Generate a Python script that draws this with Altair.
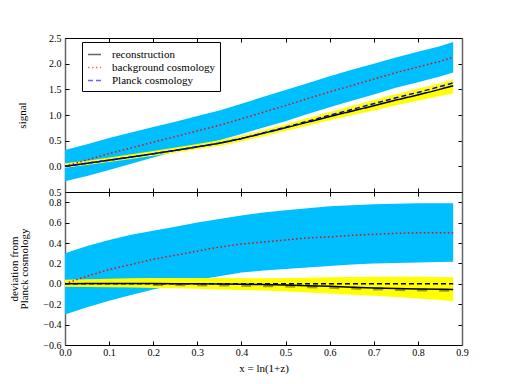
import altair as alt
import pandas as pd

# ---------------- data ----------------
x = [0.0, 0.05, 0.1, 0.15, 0.2, 0.25, 0.3, 0.35, 0.4, 0.45, 0.5, 0.55, 0.6, 0.65, 0.7, 0.75, 0.8, 0.85, 0.88]

# top panel: signal
recon = [0.0, 0.06, 0.12, 0.18, 0.245, 0.31, 0.38, 0.45, 0.54, 0.645, 0.75, 0.86, 0.97, 1.075, 1.18, 1.29, 1.39, 1.50, 1.57]
planck = [0.0, 0.06, 0.12, 0.18, 0.245, 0.31, 0.38, 0.452, 0.544, 0.652, 0.762, 0.878, 0.995, 1.108, 1.22, 1.335, 1.44, 1.553, 1.625]
background = [0.0, 0.125, 0.25, 0.36, 0.47, 0.58, 0.69, 0.80, 0.925, 1.055, 1.185, 1.32, 1.45, 1.575, 1.70, 1.825, 1.935, 2.045, 2.125]
blue_top_hi = [0.32, 0.43, 0.55, 0.66, 0.765, 0.87, 0.98, 1.09, 1.22, 1.355, 1.485, 1.62, 1.755, 1.88, 2.00, 2.12, 2.23, 2.34, 2.42]
blue_top_lo = [-0.29, -0.19, -0.07, 0.05, 0.17, 0.29, 0.40, 0.51, 0.63, 0.755, 0.88, 1.02, 1.15, 1.28, 1.40, 1.53, 1.64, 1.75, 1.83]
yel_top_hi = [0.06, 0.11, 0.17, 0.235, 0.30, 0.367, 0.437, 0.508, 0.60, 0.707, 0.82, 0.94, 1.06, 1.175, 1.29, 1.405, 1.51, 1.62, 1.69]
yel_top_lo = [-0.03, 0.028, 0.086, 0.143, 0.205, 0.266, 0.331, 0.397, 0.484, 0.586, 0.687, 0.793, 0.90, 0.995, 1.09, 1.19, 1.28, 1.37, 1.42]

# bottom panel: deviation from Planck cosmology
dev_recon = [0.0, 0.002, 0.003, 0.003, 0.002, 0.001, 0.0, -0.002, -0.004, -0.007, -0.012, -0.018, -0.025, -0.033, -0.04, -0.045, -0.05, -0.053, -0.055]
dev_planck = [0.0] * 19
dev_background = [0.0, 0.075, 0.14, 0.19, 0.24, 0.28, 0.32, 0.36, 0.39, 0.41, 0.43, 0.45, 0.46, 0.475, 0.485, 0.495, 0.50, 0.50, 0.50]
blue_dev_hi = [0.30, 0.37, 0.43, 0.48, 0.52, 0.56, 0.60, 0.635, 0.67, 0.70, 0.72, 0.74, 0.76, 0.77, 0.78, 0.785, 0.79, 0.79, 0.79]
blue_dev_lo = [-0.30, -0.23, -0.165, -0.11, -0.057, -0.01, 0.04, 0.075, 0.11, 0.13, 0.145, 0.16, 0.175, 0.188, 0.198, 0.205, 0.21, 0.213, 0.215]
yel_dev_hi = [0.04, 0.045, 0.05, 0.055, 0.057, 0.057, 0.057, 0.056, 0.055, 0.055, 0.057, 0.06, 0.063, 0.067, 0.07, 0.07, 0.068, 0.066, 0.065]
yel_dev_lo = [-0.03, -0.032, -0.034, -0.037, -0.04, -0.044, -0.049, -0.055, -0.06, -0.066, -0.075, -0.085, -0.095, -0.107, -0.118, -0.13, -0.145, -0.16, -0.17]
olive_x = [0.2, 0.25, 0.3, 0.35, 0.4, 0.45, 0.5, 0.55, 0.6, 0.65, 0.7, 0.75, 0.8, 0.85, 0.88]
olive_y = [-0.006, -0.008, -0.01, -0.012, -0.014, -0.018, -0.022, -0.028, -0.035, -0.042, -0.05, -0.055, -0.06, -0.063, -0.065]

series_names = ["reconstruction", "background cosmology", "Planck cosmology"]
series_colors = ["black", "red", "blue"]
series_dash = [[1, 0], [1.5, 2.5], [5, 3]]

x_ticks = [0.0, 0.1, 0.2, 0.3, 0.4, 0.5, 0.6, 0.7, 0.8, 0.9]
top_ticks = [-0.5, 0.0, 0.5, 1.0, 1.5, 2.0, 2.5]
bot_ticks = [-0.6, -0.4, -0.2, 0.0, 0.2, 0.4, 0.6, 0.8]

# ---------------- layout ----------------
W = 397
H1 = 154
H2 = 153
FONT = "Liberation Serif, DejaVu Serif, serif"
BAND_BLUE = "#00BFFF"
BAND_YEL = "#FFFF00"

xscale = alt.Scale(domain=[0, 0.9], nice=False, zero=False)
yscale_top = alt.Scale(domain=[-0.5, 2.5], nice=False, zero=False)
yscale_bot = alt.Scale(domain=[-0.6, 0.9], nice=False, zero=False)


def ax(**kw):
    base = dict(grid=False, labelFlush=False, labelOverlap=False)
    base.update(kw)
    return alt.Axis(**base)


def tick_axes(values, orient_main, offset):
    return ax(orient=orient_main, offset=offset, values=values, labels=False,
              domain=False, ticks=True, tickSize=4, tickColor="black", title=None)


top_df = pd.DataFrame({"x": x, "recon": recon, "planck": planck, "background": background,
                       "bhi": blue_top_hi, "blo": blue_top_lo, "yhi": yel_top_hi, "ylo": yel_top_lo})
n = len(x)
top_lines = pd.DataFrame({
    "x": x * 3,
    "value": recon + background + planck,
    "series": [series_names[0]] * n + [series_names[1]] * n + [series_names[2]] * n,
})

top_base = alt.Chart(top_df)
t_blue = top_base.mark_area(color=BAND_BLUE, opacity=1).encode(
    x=alt.X("x:Q", scale=xscale, axis=ax(orient="bottom", values=x_ticks, labels=False, ticks=False,
                                           domain=True, domainColor="black", title=None)),
    y=alt.Y("blo:Q", scale=yscale_top,
            axis=ax(orient="left", values=top_ticks, ticks=False, domain=True, domainColor="#666666",
                    domainWidth=1.5, labelExpr="format(abs(datum.value), '.1f')", title="signal",
                    titlePadding=21, labelPadding=4)),
    y2="bhi:Q",
)
t_yel = top_base.mark_area(color=BAND_YEL, opacity=1).encode(
    x=alt.X("x:Q", scale=xscale, axis=tick_axes(x_ticks, "top", -H1)),
    y=alt.Y("ylo:Q", scale=yscale_top, axis=tick_axes(top_ticks, "right", -W)),
    y2="yhi:Q",
)
legend = alt.Legend(orient="none", legendX=17, legendY=4, title=None, strokeColor="black",
                    fillColor="white", padding=5, symbolType="stroke", symbolSize=169,
                    symbolStrokeWidth=1.5, labelFont=FONT, labelFontSize=11, labelOffset=10,
                    rowPadding=0, symbolOpacity=0.6, cornerRadius=0)
t_lines = alt.Chart(top_lines).mark_line(strokeWidth=1.5).encode(
    x=alt.X("x:Q", scale=xscale, axis=ax(orient="bottom", offset=-H1, values=x_ticks, labels=False,
                                           ticks=True, tickSize=4, domain=True, domainColor="black",
                                           title=None)),
    y=alt.Y("value:Q", scale=yscale_top,
            axis=ax(orient="left", offset=-W, values=top_ticks, labels=False, ticks=True, tickSize=4,
                    domain=True, domainColor="#666666", domainWidth=1.5, title=None)),
    color=alt.Color("series:N", scale=alt.Scale(domain=series_names, range=series_colors), legend=legend),
    strokeDash=alt.StrokeDash("series:N", scale=alt.Scale(domain=series_names, range=series_dash),
                              legend=legend),
)
top = alt.layer(t_blue, t_yel, t_lines).resolve_axis(x="independent", y="independent").properties(
    width=W, height=H1)

bot_df = pd.DataFrame({"x": x, "recon": dev_recon, "planck": dev_planck, "background": dev_background,
                       "bhi": blue_dev_hi, "blo": blue_dev_lo, "yhi": yel_dev_hi, "ylo": yel_dev_lo})
olive_df = pd.DataFrame({"x": olive_x, "y": olive_y})
bot_base = alt.Chart(bot_df)
b_blue = bot_base.mark_area(color=BAND_BLUE, opacity=1).encode(
    x=alt.X("x:Q", scale=xscale, axis=ax(orient="bottom", values=x_ticks, ticks=False, domain=True,
                                           domainColor="black", format=".1f", title="x = ln(1+z)",
                                           labelPadding=2, titlePadding=5)),
    y=alt.Y("blo:Q", scale=yscale_bot,
            axis=ax(orient="left", values=bot_ticks, ticks=False, domain=True, domainColor="#666666",
                    domainWidth=1.5, format=".1f", title=["deviation from", "Planck cosmology"],
                    titlePadding=13, labelPadding=4)),
    y2="bhi:Q",
)
b_yel = bot_base.mark_area(color=BAND_YEL, opacity=1).encode(
    x=alt.X("x:Q", scale=xscale, axis=tick_axes(x_ticks, "top", -H2)),
    y=alt.Y("ylo:Q", scale=yscale_bot, axis=tick_axes(bot_ticks, "right", -W)),
    y2="yhi:Q",
)
b_olive = alt.Chart(olive_df).mark_line(color="#8a8a10", strokeWidth=3, strokeDash=[10, 12], opacity=0.8).encode(
    x=alt.X("x:Q", scale=xscale, axis=None),
    y=alt.Y("y:Q", scale=yscale_bot, axis=None),
)
b_recon = bot_base.mark_line(color="black", strokeWidth=1.5).encode(
    x=alt.X("x:Q", scale=xscale, axis=ax(orient="bottom", offset=-H2, values=x_ticks, labels=False,
                                           ticks=True, tickSize=4, domain=True, domainColor="black",
                                           title=None)),
    y=alt.Y("recon:Q", scale=yscale_bot,
            axis=ax(orient="left", offset=-W, values=bot_ticks, labels=False, ticks=True, tickSize=4,
                    domain=True, domainColor="#666666", domainWidth=1.5, title=None)),
)
b_bg = bot_base.mark_line(color="red", strokeWidth=1.5, strokeDash=[1.5, 2.5]).encode(
    x=alt.X("x:Q", scale=xscale, axis=None),
    y=alt.Y("background:Q", scale=yscale_bot, axis=None),
)
b_planck = bot_base.mark_line(color="black", strokeWidth=1.5, strokeDash=[5, 3]).encode(
    x=alt.X("x:Q", scale=xscale, axis=None),
    y=alt.Y("planck:Q", scale=yscale_bot, axis=None),
)
bottom = alt.layer(b_blue, b_yel, b_olive, b_recon, b_bg, b_planck).resolve_axis(
    x="independent", y="independent").properties(width=W, height=H2)

chart = alt.vconcat(top, bottom, spacing=0, bounds="flush").resolve_legend(
    color="independent", strokeDash="independent").properties(
    padding={"left": 0, "top": 25, "right": 5, "bottom": 5}
).configure_view(stroke=None).configure_axis(
    labelFont=FONT, labelFontSize=10, labelColor="black",
    titleFont=FONT, titleFontSize=11, titleFontWeight="normal", titleColor="black",
    titleLineHeight=10, tickColor="black",
)

chart.save("out.html", embed_options={"renderer": "svg", "actions": False})
